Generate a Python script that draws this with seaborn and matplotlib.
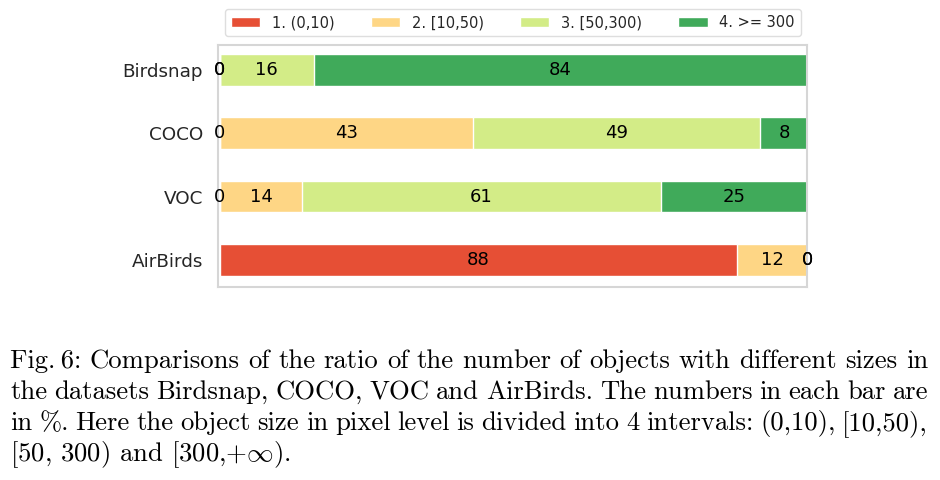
import matplotlib
matplotlib.use("Agg")
import matplotlib.pyplot as plt
import seaborn as sns
import pandas as pd
import numpy as np

# Data (percent of objects per size interval)
datasets = ["Birdsnap", "COCO", "VOC", "AirBirds"]
intervals = ["1. (0,10)", "2. [10,50)", "3. [50,300)", "4. >= 300"]
size_0_10 = [0, 0, 0, 88]
size_10_50 = [0, 43, 14, 12]
size_50_300 = [16, 49, 61, 0]
size_300_up = [84, 8, 25, 0]
colors = ["#e64f35", "#fed685", "#d3ec87", "#40aa5a"]

caption_lines = [
    "Fig.\u20096: Comparisons of the ratio of the number of objects with different sizes in",
    "the datasets Birdsnap, COCO, VOC and AirBirds. The numbers in each bar are",
    "in %. Here the object size in pixel level is divided into 4 intervals: (0,10), [10,50),",
    "[50, 300) and [300,$+\\infty$).",
]

df = pd.DataFrame({"dataset": datasets,
                   intervals[0]: size_0_10,
                   intervals[1]: size_10_50,
                   intervals[2]: size_50_300,
                   intervals[3]: size_300_up})
cum = df[intervals].cumsum(axis=1)

sns.set_style("whitegrid")
plt.rcParams["mathtext.fontset"] = "cm"

fig = plt.figure(figsize=(9.4, 4.8), dpi=100)
ax = fig.add_axes([0.232, 0.402, 0.627, 0.505])

# stacked bars: draw cumulative totals from the largest down
for i in range(len(intervals) - 1, -1, -1):
    sns.barplot(x=cum[intervals[i]], y=df["dataset"], color=colors[i], orient="h",
                width=0.5, edgecolor="white", linewidth=1, ax=ax, label=intervals[i],
                saturation=1)

# segment labels
for r, name in enumerate(datasets):
    left = 0
    for i, col in enumerate(intervals):
        w = df.loc[r, col]
        ax.text(left + w / 2, r, str(w), ha="center", va="center", fontsize=13, color="black")
        left += w

ax.set_xlim(-0.3, 100)
ax.set_ylim(3.43, -0.40)
ax.grid(False)
ax.set_xlabel("")
ax.set_ylabel("")
ax.set_xticks([])
ax.tick_params(axis="y", labelsize=13.2, length=0, pad=11)
for s in ax.spines.values():
    s.set_color("#d6d6d6")
    s.set_linewidth(1.5)

# legend in original order
handles, labels = ax.get_legend_handles_labels()
order = [labels.index(l) for l in intervals]
leg = ax.legend([handles[k] for k in order], intervals, ncol=4, loc="lower center",
                bbox_to_anchor=(0.5, 1.0), fontsize=10.5, frameon=True, borderaxespad=0.6,
                columnspacing=2.5)
leg.get_frame().set_edgecolor("#d6d6d6")

# caption, justified like the paper
renderer = fig.canvas.get_renderer()
x_left, x_right = 10 / 940, 928 / 940
y0 = 1 - 368 / 480
dy = 31 / 480
cap_kw = dict(family=["cmr10", "DejaVu Serif"], fontsize=19.2, color="black", va="baseline")
for n, line in enumerate(caption_lines):
    y = y0 - n * dy
    if n == len(caption_lines) - 1:
        fig.text(x_left, y, line, **cap_kw)
        continue
    words = line.split(" ")
    texts = [fig.text(0, y, w, **cap_kw) for w in words]
    widths = [t.get_window_extent(renderer).width / fig.bbox.width for t in texts]
    gap = (x_right - x_left - sum(widths)) / (len(words) - 1)
    x = x_left
    for t, w in zip(texts, widths):
        t.set_x(x)
        x += w + gap

fig.savefig("out.png", dpi=100)
